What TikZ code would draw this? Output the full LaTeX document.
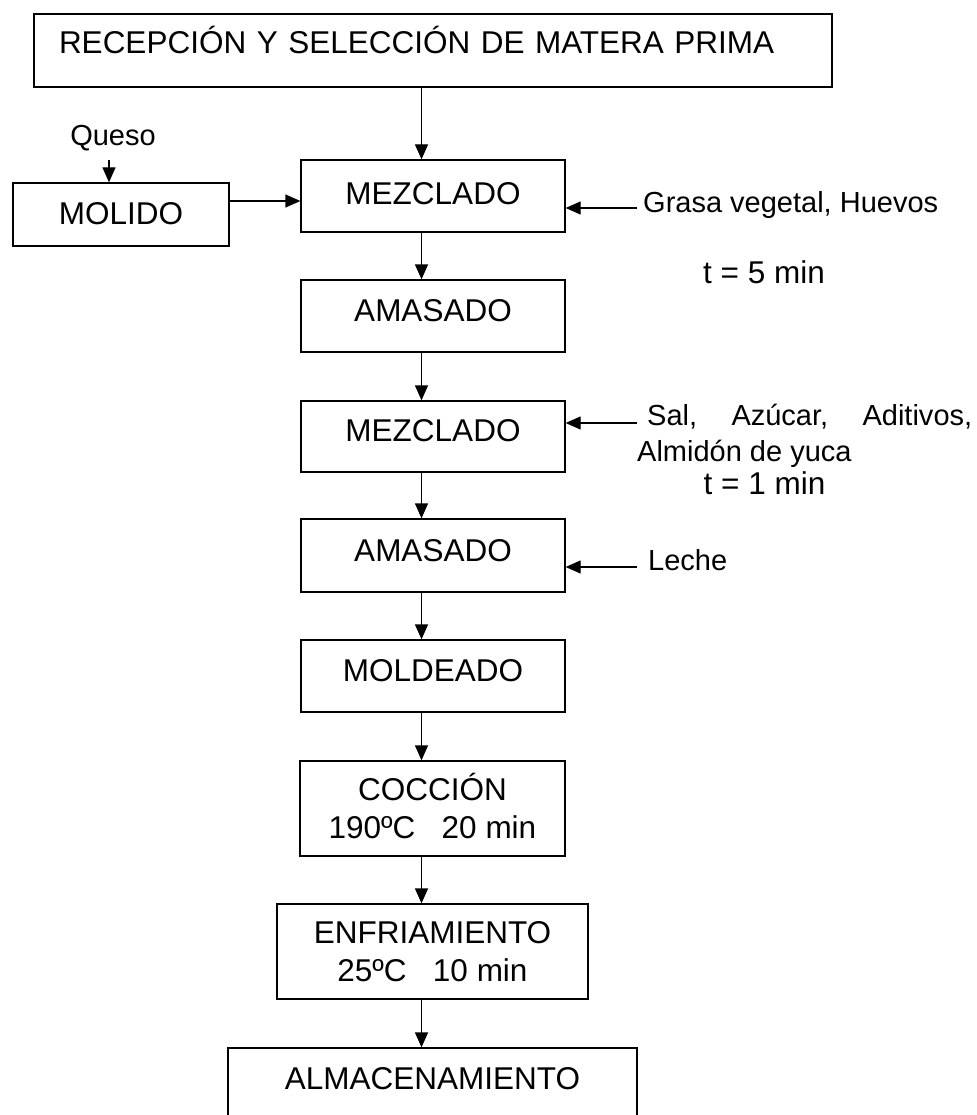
\documentclass[tikz,border=0pt]{standalone}
\usepackage{fontspec}
\setmainfont{Liberation Sans}
\usetikzlibrary{arrows.meta}
\begin{document}
\begin{tikzpicture}[x=1pt,y=-1pt,
  box/.style={draw, line width=1.3pt, inner sep=0pt, font=\fontsize{31.5}{38}\selectfont, align=center, text height=23pt},
  twoline/.style={text height={}},
  side/.style={inner sep=0pt, font=\fontsize{29}{37}\selectfont},
  big/.style={inner sep=0pt, font=\fontsize{31.5}{38}\selectfont},
  arr/.style={line width=1.3pt, -{Triangle[length=15pt,width=13pt]}}]
\clip (0,0) rectangle (976,1115);
\useasboundingbox (0,0) rectangle (976,1115);
\fill[white] (0,0) rectangle (976,1115);
% boxes
\node[box, minimum width=798pt, minimum height=73pt, text width=748pt, align=left, text depth=17pt] (top) at (433,50.5) {RECEPCIÓN Y SELECCIÓN DE MATERA PRIMA};
\node[box, minimum width=216pt, minimum height=63pt, text depth=3pt] (mol) at (121,214.5) {MOLIDO};
\node[box, minimum width=264pt, minimum height=72pt, text depth=6pt] (m1) at (433,196) {MEZCLADO};
\node[box, minimum width=264pt, minimum height=72pt, text depth=12pt] (a1) at (433,316) {AMASADO};
\node[box, minimum width=264pt, minimum height=71pt, text depth=13pt] (m2) at (433,436.5) {MEZCLADO};
\node[box, minimum width=264pt, minimum height=73pt, text depth=11pt] (a2) at (433,555.5) {AMASADO};
\node[box, minimum width=264pt, minimum height=72pt, text depth=12pt] (mold) at (433,676) {MOLDEADO};
\node[box, twoline, minimum width=265pt, minimum height=95pt, text depth=6pt] (coc) at (432.5,808.5) {COCCIÓN\\190ºC\ \ \ 20 min};
\node[box, twoline, minimum width=311pt, minimum height=95pt, text depth=1pt] (enf) at (432.5,951.5) {ENFRIAMIENTO\\25ºC\ \ \ 10 min};
\node[box, minimum width=409pt, minimum height=82pt, text depth=22pt] (alma) at (432.5,1089) {ALMACENAMIENTO};
% main flow arrows
\coordinate (ax) at (421.5,0);
\draw[arr] (top.south -| ax) -- (m1.north -| ax);
\draw[arr] (m1.south -| ax) -- (a1.north -| ax);
\draw[arr] (a1.south -| ax) -- (m2.north -| ax);
\draw[arr] (m2.south -| ax) -- (a2.north -| ax);
\draw[arr] (a2.south -| ax) -- (mold.north -| ax);
\draw[arr] (mold.south -| ax) -- (coc.north -| ax);
\draw[arr] (coc.south -| ax) -- (enf.north -| ax);
\draw[arr] (enf.south -| ax) -- (alma.north -| ax);
% left branch
\node[side] (queso) at (113,138) {Queso};
\coordinate (q1) at (109,160);
\draw[arr] (q1) -- (q1 |- mol.north);
\coordinate (mo) at (0,201);
\draw[arr] (mol.east |- mo) -- (m1.west |- mo);
% right inputs
\node[side, anchor=west] (grasa) at (643,205) {Grasa vegetal, Huevos};
\coordinate (g1) at (637,208);
\draw[arr] (g1) -- (g1 -| m1.east);
\node[big] (t5) at (764,272) {t = 5 min};
\node[side, anchor=west] (sal) at (647,417) {\makebox[325pt][s]{Sal, Azúcar, Aditivos,}};
\node[side, anchor=west] (almi) at (637,454) {Almidón de yuca};
\node[big] (t1) at (764.5,483) {t = 1 min};
\coordinate (s1) at (637,423);
\draw[arr] (s1) -- (s1 -| m2.east);
\node[side, anchor=west] (leche) at (648,560) {Leche};
\coordinate (l1) at (637,567);
\draw[arr] (l1) -- (l1 -| a2.east);
\end{tikzpicture}
\end{document}
